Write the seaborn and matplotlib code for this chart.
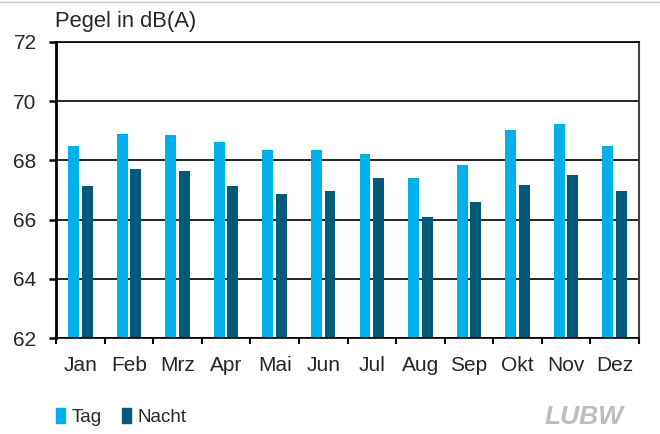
import matplotlib
matplotlib.use("Agg")
import matplotlib.pyplot as plt
import seaborn as sns
import pandas as pd
import numpy as np
from matplotlib.patches import Rectangle
from matplotlib.lines import Line2D

months = ["Jan", "Feb", "Mrz", "Apr", "Mai", "Jun", "Jul", "Aug", "Sep", "Okt", "Nov", "Dez"]
tag = [68.5, 68.88, 68.85, 68.62, 68.36, 68.36, 68.2, 67.42, 67.85, 69.02, 69.23, 68.5]
nacht = [67.12, 67.72, 67.64, 67.12, 66.85, 66.95, 67.42, 66.08, 66.59, 67.16, 67.5, 66.95]
series = ["Tag", "Nacht"]
colors = ["#00B0EB", "#005A78"]
yticks = [62, 64, 66, 68, 70, 72]

df = pd.DataFrame({
    "Monat": months * 2,
    "Pegel": tag + nacht,
    "Serie": [series[0]] * len(months) + [series[1]] * len(months),
})

sns.set_style("white")
plt.rcParams["font.family"] = ["Liberation Sans", "DejaVu Sans"]

fig = plt.figure(figsize=(6.6, 4.34), dpi=100)
ax = fig.add_axes([56 / 660, 1 - 338 / 434, (639 - 56) / 660, (338 - 42) / 434])

sns.barplot(data=df, x="Monat", y="Pegel", hue="Serie", palette=colors,
            width=0.56, gap=0.2, ax=ax, legend=False, saturation=1,
            edgecolor="none", linewidth=0)

ax.set_ylim(62, 72)
ax.set_xlim(-0.5, len(months) - 0.5)
ax.set_yticks(yticks)
ax.set_yticklabels([str(t) for t in yticks], fontsize=15)
ax.set_xticks(range(len(months)))
ax.set_xticklabels(months, fontsize=15)
ax.set_xticks(np.arange(len(months) + 1) - 0.5, minor=True)
ax.set_xlabel("")
ax.set_ylabel("")
ax.yaxis.grid(True, color="black", linewidth=1.2)
ax.set_axisbelow(True)
ax.tick_params(axis="y", length=5, width=1.8, color="black", pad=9, left=True)
ax.tick_params(axis="x", which="major", length=0, pad=13)
ax.tick_params(axis="x", which="minor", length=4, width=1.5, color="black", bottom=True, direction="out")
for s in ["left", "bottom", "top"]:
    ax.spines[s].set_color("black")
ax.spines["left"].set_linewidth(2)
ax.spines["bottom"].set_linewidth(1.2)
ax.spines["top"].set_linewidth(1.2)
ax.spines["right"].set_color("#444444")
ax.spines["right"].set_linewidth(1.5)

fig.text(55 / 660, 1 - 21 / 434, "Pegel in dB(A)", fontsize=15.8, va="center", ha="left")

# top border line
fig.add_artist(Line2D([0, 1], [1 - 2 / 434, 1 - 2 / 434], color="#c8c8c8", linewidth=1))

# legend
ax.legend(handles=[Rectangle((0, 0), 1, 1, color=colors[0]), Rectangle((0, 0), 1, 1, color=colors[1])],
          labels=series, loc="center left", bbox_to_anchor=(39 / 660, 1 - 417 / 434),
          bbox_transform=fig.transFigure, ncol=2, frameon=False, fontsize=13.5,
          handlelength=0.5, handleheight=0.8, handletextpad=0.35, columnspacing=1.05)

fig.text(584 / 660, 1 - 417 / 434, "LUBW", fontsize=19, fontweight="bold", style="italic",
         color="#bdbdbd", ha="center", va="center")

fig.savefig("out.png", dpi=100)
